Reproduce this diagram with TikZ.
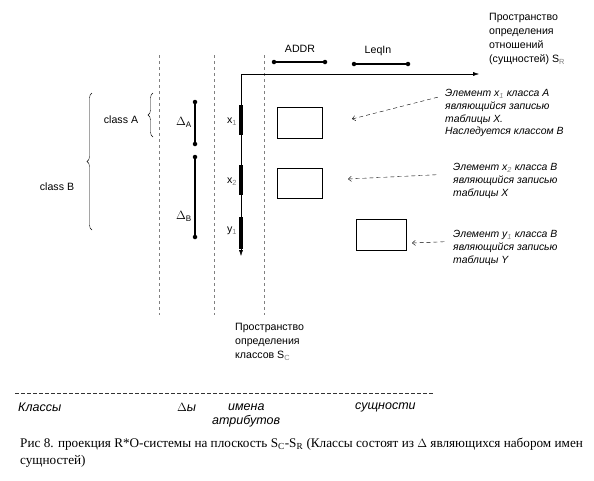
\documentclass[tikz,border=0pt]{standalone}
\usepackage{fontspec}
\setmainfont{Liberation Sans}
\newfontfamily\capfont{Liberation Serif}
\usepackage{tikz}
\usetikzlibrary{positioning}
\usetikzlibrary{arrows.meta}
\usetikzlibrary{decorations.pathreplacing}
\newcommand{\gsub}[1]{\textsubscript{\textcolor{gray}{#1}}}
\tikzset{
  plain_text/.style = {align=left, inner sep=1pt, font=\fontsize{10.6}{14}\selectfont},
  note_text/.style = {align=left, inner sep=1pt,
    font=\fontsize{10.4}{12.8}\selectfont\itshape},% commentaires a droite
  legend_text/.style = {inner sep=1pt, font=\fontsize{12.5}{14}\selectfont\itshape},% legende
  guide_line/.style = {gray, dashed, dash pattern=on 3pt off 3pt, thin},
  axis_line/.style = {black, -{Latex[length=6pt,width=4pt]}},
  attr_bar/.style = {rectangle, fill=black, inner sep=0pt, minimum width=3.2pt},
  dot/.style = {circle, fill=black, inner sep=0pt, minimum size=4.5pt},
  seg_line/.style = {black, line width=1.6pt},
  entity_box/.style = {rectangle, draw=black, inner sep=0pt},
  note_arrow/.style = {dashed, dash pattern=on 4pt off 3pt, {Straight Barb[length=3pt,width=5pt]}-},
  class_brace/.style = {decorate, decoration={brace, amplitude=5pt}}
}
\begin{document}
\begin{tikzpicture}[x=1pt, y=-1pt]
  \useasboundingbox (0,0) rectangle (594,480);
  % lignes de separation
  \foreach \gx/\gname in {159/g1, 214/g2, 264/g3} {
    \coordinate (\gname_top) at (\gx,55);
    \coordinate (\gname_bot) at (\gx,315);
    \draw[guide_line] (\gname_top) -- (\gname_bot);
  }
  % axes
  \coordinate (origin) at (241,74);
  \coordinate (sr_end) at (479,74);
  \coordinate (sc_end) at (241,256);
  \draw[axis_line] (origin) -- (sr_end);
  \draw[axis_line] (origin) -- (sc_end);
  \node[plain_text, anchor=north west] (sr_label) at (488,12)
    {Пространство\\определения\\отношений\\(сущностей) S\gsub{R}};
  \node[plain_text, anchor=north west] (sc_label) at (234,322)
    {Пространство\\определения\\классов S\gsub{C}};
  % attributs
  \node[dot] (addr_a) at (274,62) {};
  \node[dot] (addr_b) at (325,62) {};
  \draw[seg_line] (addr_a) -- (addr_b);
  \node[plain_text] (addr_label) at (300,49) {ADDR};
  \node[dot] (leq_a) at (354,64) {};
  \node[dot] (leq_b) at (408,64) {};
  \draw[seg_line] (leq_a) -- (leq_b);
  \node[plain_text] (leq_label) at (378,51) {LeqIn};
  % elements sur l'axe des classes
  \node[attr_bar, minimum height=30pt] (x1_bar) at (241,120) {};
  \node[attr_bar, minimum height=30pt] (x2_bar) at (241,180) {};
  \node[attr_bar, minimum height=32pt] (y1_bar) at (241,233) {};
  \node[plain_text, left=1pt of x1_bar, yshift=-2pt] (x1_label) {x\gsub{1}};
  \node[plain_text, left=1pt of x2_bar, yshift=-2pt] (x2_label) {x\gsub{2}};
  \node[plain_text, left=1pt of y1_bar, yshift=2pt] (y1_label) {y\gsub{1}};
  % deltas
  \node[dot] (da_top) at (195,102) {};
  \node[dot] (da_bot) at (195,144) {};
  \draw[seg_line, line width=1.4pt] (da_top) -- (da_bot);
  \node[dot] (db_top) at (195,157) {};
  \node[dot] (db_bot) at (195,237) {};
  \draw[seg_line, line width=1.4pt] (db_top) -- (db_bot);
  \node[plain_text, font=\fontsize{11.5}{14}\selectfont] (da_label) at (184,122) {$\Delta_{\mathrm{A}}$};
  \node[plain_text, font=\fontsize{11.5}{14}\selectfont] (db_label) at (184,216) {$\Delta_{\mathrm{B}}$};
  % classes
  \coordinate (ca_top) at (153,93);
  \coordinate (ca_bot) at (153,137);
  \draw[class_brace] (ca_bot) -- (ca_top);
  \node[plain_text] (ca_label) at (121,120) {class A};
  \coordinate (cb_top) at (92,93);
  \coordinate (cb_bot) at (92,230);
  \draw[class_brace] (cb_bot) -- (cb_top);
  \node[plain_text] (cb_label) at (57,187) {class B};
  % enregistrements
  \node[entity_box, minimum width=45pt, minimum height=31pt] (box_x1) at (299.5,122.5) {};
  \node[entity_box, minimum width=45pt, minimum height=30pt] (box_x2) at (299.5,183) {};
  \node[entity_box, minimum width=50pt, minimum height=31pt] (box_y1) at (381,234.5) {};
  \node[note_text, anchor=north west] (x1_note) at (444,88)
    {Элемент x\gsub{1} класса A\\являющийся записью\\таблицы X.\\Наследуется классом B};
  \node[note_text, anchor=north west] (x2_note) at (452,162)
    {Элемент x\gsub{2} класса B\\являющийся записью\\таблицы X};
  \node[note_text, anchor=north west] (y1_note) at (452,229)
    {Элемент y\gsub{1} класса B\\являющийся записью\\таблицы Y};
  \coordinate (x1_tip) at (352,119);
  \coordinate (x2_tip) at (348,179);
  \coordinate (y1_tip) at (412,243);
  \draw[note_arrow] (x1_tip) -- ([xshift=-6pt, yshift=16pt]x1_note.west);
  \draw[note_arrow] (x2_tip) -- ([xshift=-14pt, yshift=6pt]x2_note.west);
  \draw[note_arrow] (y1_tip) -- ([xshift=-6pt, yshift=6pt]y1_note.west);
  % legende du bas
  \coordinate (leg_a) at (15,393);
  \coordinate (leg_b) at (433,393);
  \draw[dashed, dash pattern=on 4pt off 2pt, black!80] (leg_a) -- (leg_b);
  \node[legend_text, anchor=west] (classes_label) at (17,407) {Классы};
  \node[legend_text, anchor=west] (deltas_label) at (176,407) {$\Delta$ы};
  \node[legend_text, anchor=west] (names_label) at (227,407) {имена};
  \node[legend_text, anchor=west] (attrs_label) at (211,421) {атрибутов};
  \node[legend_text, anchor=west] (ent_label) at (354,407) {сущности};
  \node[align=left, anchor=north west, inner sep=0pt,
    font=\capfont\fontsize{13.2}{17}\selectfont] (caption) at (20,438)
    {Рис 8. проекция R*O-системы на плоскость S\textsubscript{C}-S\textsubscript{R} (Классы состоят из $\Delta$ являющихся набором имен\\сущностей)};
\end{tikzpicture}
\end{document}
